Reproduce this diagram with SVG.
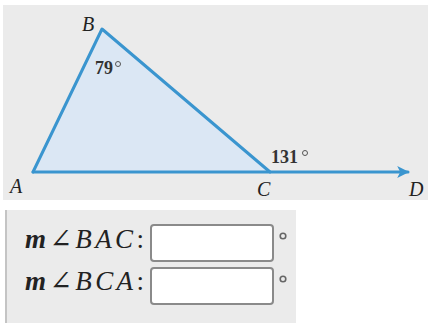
<svg xmlns="http://www.w3.org/2000/svg" width="428" height="323" viewBox="0 0 428 323">
<defs>
<style>
.lbl{font-family:"Liberation Serif","DejaVu Serif",serif;font-style:italic;font-size:20px;fill:#222}
.ang{font-family:"Liberation Serif","DejaVu Serif",serif;font-weight:bold;font-size:18px;fill:#333}
.eq{font-family:"Liberation Serif","DejaVu Serif",serif;font-size:27px;fill:#222}
.box{fill:#fff;stroke:#8a8a8a;stroke-width:2}
.deg{fill:none;stroke:#666;stroke-width:1.6}
.edge{stroke:#3a95cf;stroke-width:3;fill:none;stroke-linecap:round;stroke-linejoin:round}
</style>
<marker id="arr" viewBox="0 0 10 10" refX="9" refY="5" markerWidth="16" markerHeight="12" markerUnits="userSpaceOnUse" orient="auto">
<path d="M0,0 L10,5 L0,10 L2.5,5 Z" fill="#3a95cf"/>
</marker>
</defs>
<rect x="0" y="0" width="428" height="323" fill="#ffffff"/>
<rect x="3" y="5" width="425" height="195" fill="#ebebeb"/>
<g id="triangle">
<polygon points="33,172 102,29 270,172" fill="#dbe7f4"/>
</g>
<g id="connectors">
<path class="edge" d="M33,172 L102,29 L270,172"/>
<path class="edge" d="M33,172 L408,172" marker-end="url(#arr)"/>
</g>
<g id="labels">
<text class="lbl" x="82" y="31">B</text>
<text class="lbl" x="10" y="193">A</text>
<text class="lbl" x="257" y="196">C</text>
<text class="lbl" x="409" y="196">D</text>
<text class="ang" x="95" y="74">79</text>
<circle class="deg" cx="118" cy="64" r="2.5" style="stroke:#555;stroke-width:1"/>
<text class="ang" x="271" y="163">131</text>
<circle class="deg" cx="305" cy="153" r="2.5" style="stroke:#555;stroke-width:1"/>
</g>
<g id="form">
<rect x="5" y="210" width="291" height="113" fill="#ebebeb"/>
<rect x="5" y="210" width="2" height="113" fill="#c4c4c4"/>
<text class="eq" x="25" y="248" textLength="119" lengthAdjust="spacing"><tspan font-style="italic" font-weight="bold">m</tspan>∠<tspan font-style="italic">BAC</tspan>:</text>
<text class="eq" x="25" y="290" textLength="119" lengthAdjust="spacing"><tspan font-style="italic" font-weight="bold">m</tspan>∠<tspan font-style="italic">BCA</tspan>:</text>
<rect class="box" x="151" y="225" width="122" height="36" rx="3"/>
<rect class="box" x="151" y="268" width="122" height="36" rx="3"/>
<circle class="deg" cx="283" cy="236" r="2.8"/>
<circle class="deg" cx="283" cy="279" r="2.8"/>
</g>
</svg>
